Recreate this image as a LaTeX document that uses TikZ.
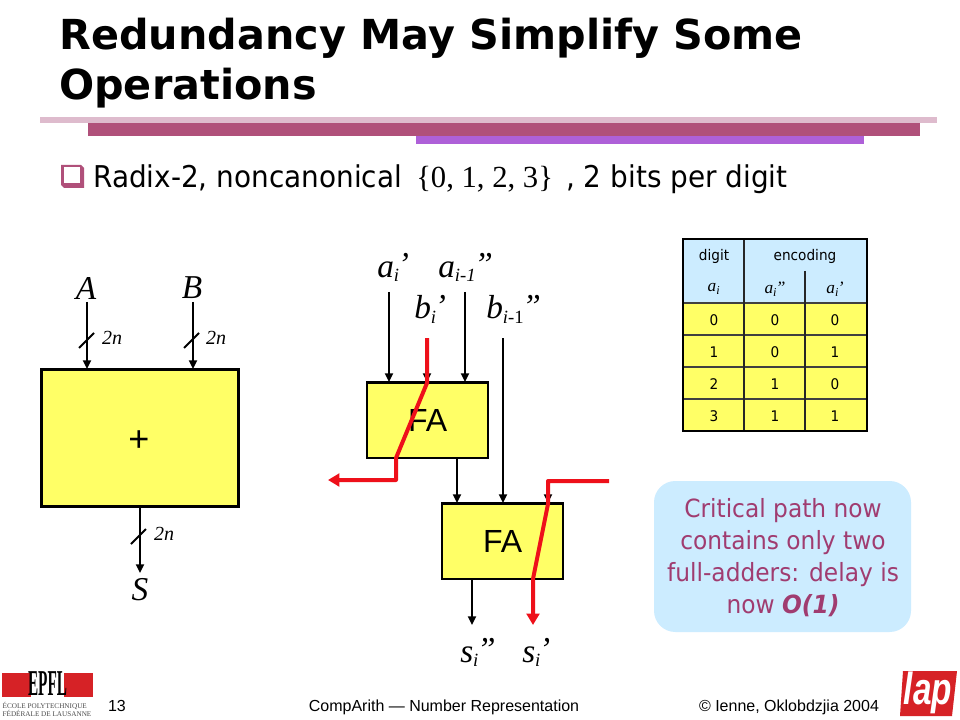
\documentclass[tikz,border=0pt]{standalone}
\usepackage{fontspec}
\setmainfont{Liberation Sans}
\newfontfamily\titlefont{DejaVu Sans}
\newfontfamily\bodyfont[FakeStretch=0.93]{DejaVu Sans}
\newfontfamily\serifface{Liberation Serif}
\usetikzlibrary{arrows.meta}
\definecolor{barpale}{RGB}{222,187,205}
\definecolor{barmid}{RGB}{176,80,122}
\definecolor{barpur}{RGB}{174,96,216}
\definecolor{boxyel}{RGB}{255,255,102}
\definecolor{headblue}{RGB}{204,236,255}
\definecolor{notetxt}{RGB}{160,60,112}
\definecolor{critred}{RGB}{238,16,26}
\definecolor{logored}{RGB}{214,34,38}
\tikzset{
 x=0.75pt,y=-0.75pt,
 wire/.style={line width=1.5pt,-{Triangle[length=6.5pt,width=6pt]}},
 plain/.style={line width=1.5pt},
 crit/.style={line width=3pt,critred,line join=round},
 fabox/.style={draw=black,line width=1.7pt,fill=boxyel,inner sep=0pt,outer sep=0pt,font=\fontsize{24}{24}\selectfont},
 sym/.style={inner sep=0pt,font=\serifface\itshape\fontsize{25}{25}\selectfont},
 bitw/.style={inner sep=0pt,font=\serifface\itshape\fontsize{15}{15}\selectfont},
 cellv/.style={inner sep=0pt,font=\bodyfont\fontsize{11}{11}\selectfont},
 foot/.style={inner sep=0pt,font=\fontsize{12}{12}\selectfont,anchor=base},
}
\newcommand{\symb}[3]{#1\textsubscript{\fontsize{14}{14}\selectfont #2}\kern-1.5pt\raisebox{1pt}{#3}}
\begin{document}
\begin{tikzpicture}
\useasboundingbox (0,0) rectangle (960,720);
\fill[white] (0,0) rectangle (960,720);
% title
\node[anchor=base west,inner sep=0pt,font=\titlefont\bfseries\fontsize{31}{31}\selectfont] (t1) at (59,50) {Redundancy May Simplify Some};
\node[anchor=base west,inner sep=0pt,font=\titlefont\bfseries\fontsize{31}{31}\selectfont] (t2) at (59,100) {Operations};
% bars
\fill[barpale] (40,117) rectangle (937,123);
\fill[barmid] (88,123) rectangle (920,136);
\fill[barpur] (416,136) rectangle (864,144);
% bullet
\fill[barmid] (61,165) -- (81,165) -- (84,168) -- (84,188) -- (64,188) -- (61,185) -- cycle;
\fill[white] (64,167.5) rectangle (80,183);
% body line
\node[anchor=base west,inner sep=0pt,font=\bodyfont\fontsize{22.5}{22.5}\selectfont] (b1) at (93,188) {Radix-2, noncanonical};
\node[anchor=base west,inner sep=0pt,font=\serifface\fontsize{23}{23}\selectfont] (b2) at (416,188) {\{0, 1, 2, 3\}};
\node[anchor=base west,inner sep=0pt,font=\bodyfont\fontsize{22.5}{22.5}\selectfont] (b3) at (566,188) {, 2 bits per digit};
% adder
\node[fabox,anchor=north west,minimum width=147.75pt,minimum height=102.75pt] (add) at (41.5,369.5) {};
\node[inner sep=0pt,font=\fontsize{27}{27}\selectfont] (plus) at (139,441) {+};
\node[sym] (A) at (86,288) {A};
\node[sym] (B) at (192,288) {B};
\node[sym] (S) at (140,590) {S};
\coordinate (ca) at (87,302); \coordinate (cb) at (193,302);
\coordinate (ea) at (87,369); \coordinate (eb) at (193,369);
\coordinate (sa) at (140,506); \coordinate (sb) at (140,573);
\draw[wire] (ca) -- (ea);
\draw[wire] (cb) -- (eb);
\draw[wire] (sa) -- (sb);
\draw[plain] (79,348) -- (94,333);
\draw[plain] (184,348) -- (199,333);
\draw[plain] (131,544) -- (146,529);
\node[bitw] (n1) at (112,338) {2n};
\node[bitw] (n2) at (216,338) {2n};
\node[bitw] (n3) at (164,534) {2n};
% FA
\node[fabox,anchor=north west,minimum width=91pt,minimum height=56.5pt] (fa1) at (367,382.5) {\raisebox{-1pt}{FA}};
\node[fabox,anchor=north west,minimum width=91pt,minimum height=56.5pt] (fa2) at (442,503.5) {\raisebox{-1pt}{FA}};
% labels
\node[sym,anchor=base west] (la) at (377,277) {\symb{a}{i}{’}};
\node[sym,anchor=base west] (lb) at (438,277) {\symb{a}{i-1}{”}};
\node[sym,anchor=base west] (lc) at (414,319) {\symb{b}{i}{’}};
\node[sym,anchor=base west] (ld) at (486,319) {b\textsubscript{\fontsize{14}{14}\selectfont\textit{i}\textup{-1}}\kern-1.5pt\raisebox{1pt}{”}};
\node[sym,anchor=base west] (le) at (460,662) {\symb{s}{i}{”}};
\node[sym,anchor=base west] (lf) at (522,662) {\symb{s}{i}{’}};
% wires
\coordinate (w1) at (389,292); \coordinate (w1e) at (389,382);
\coordinate (w2) at (427,338); \coordinate (w2e) at (427,382);
\coordinate (w3) at (465,292); \coordinate (w3e) at (465,382);
\coordinate (w4) at (457,458); \coordinate (w4e) at (457,503);
\coordinate (w5) at (503,338); \coordinate (w5e) at (503,503);
\coordinate (w6) at (548,482); \coordinate (w6e) at (548,503);
\coordinate (w7) at (472,579); \coordinate (w7e) at (472,625);
\draw[wire] (w1) -- (w1e);
\draw[wire] (w2) -- (w2e);
\draw[wire] (w3) -- (w3e);
\draw[wire] (w4) -- (w4e);
\draw[wire] (w5) -- (w5e);
\draw[wire] (w6) -- (w6e);
\draw[wire] (w7) -- (w7e);
% critical
\coordinate (r1) at (427,338); \coordinate (r2) at (427,383); \coordinate (r3) at (396,458); \coordinate (r4) at (396,480); \coordinate (r5) at (328,480);
\coordinate (q1) at (609,481); \coordinate (q2) at (548,481); \coordinate (q3) at (548,504); \coordinate (q4) at (533,579); \coordinate (q5) at (533,625);
\draw[crit,-{Triangle[length=8.5pt,width=9.5pt]}] (r1) -- (r2) -- (r3) -- (r4) -- (r5);
\draw[crit,-{Triangle[length=8.5pt,width=9.5pt]}] (q1) -- (q2) -- (q3) -- (q4) -- (q5);
% table
\fill[headblue] (683,239) rectangle (867,303);
\fill[boxyel] (683,303) rectangle (867,431);
\draw[line width=0.8pt,black!75] (683,303) -- (867,303) (683,335) -- (867,335) (683,367) -- (867,367) (683,399) -- (867,399);
\draw[line width=0.8pt,black!85] (744,239) -- (744,431);
\draw[line width=0.8pt,black!85] (805,271) -- (805,431);
\draw[line width=1.8pt] (683,239) rectangle (867,431);
\node[cellv] (h1) at (714,256) {digit};
\node[cellv] (h2) at (805,256) {encoding};
\node[inner sep=0pt,font=\serifface\itshape\fontsize{13}{13}\selectfont] (h3) at (714,289) {a\textsubscript{i}};
\node[inner sep=0pt,font=\serifface\itshape\fontsize{13}{13}\selectfont] (h4) at (775,289) {a\textsubscript{i}\kern-1pt”};
\node[inner sep=0pt,font=\serifface\itshape\fontsize{13}{13}\selectfont] (h5) at (835,289) {a\textsubscript{i}\kern-1pt’};
\foreach \yy/\aa/\bb/\cc [count=\k] in {320/0/0/0,352/1/0/1,384/2/1/0,416/3/1/1}{
 \node[cellv] (ca\k) at (714,\yy) {\aa};
 \node[cellv] (cb\k) at (775,\yy) {\bb};
 \node[cellv] (cc\k) at (835,\yy) {\cc};
}
% note
\node[fill=headblue,rounded corners=16pt,minimum width=192.75pt,minimum height=113.25pt,anchor=north west,inner sep=0pt,outer sep=0pt] (note) at (654,481) {};
\node[inner sep=0pt,align=center,text=notetxt,font=\bodyfont\fontsize{18.8}{24}\selectfont] (notet) at (783,558) {Critical path now\\contains only two\\full-adders: delay is\\now {\bfseries\itshape O(1)}};
% footer
\node[foot] (f1) at (117,711) {13};
\node[foot] (f2) at (444,711) {CompArith — Number Representation};
\node[foot] (f3) at (789,711) {© Ienne, Oklobdzjia 2004};
% EPFL logo
\fill[logored] (2,673) rectangle (93,697);
\fill[white] (31,673) rectangle (64,697);
\node[inner sep=0pt,anchor=base,font=\serifface\bfseries\fontsize{13}{13}\selectfont,xscale=0.88,yscale=2.1] (ep) at (47.5,695.5) {EPFL};
\node[inner sep=0pt,align=left,font=\serifface\fontsize{5.4}{6.4}\selectfont,text=black!70] (ec) at (47,709.5) {ÉCOLE POLYTECHNIQUE\\FÉDÉRALE DE LAUSANNE};
% lap logo
\fill[logored] (903,671) -- (957,671) -- (952,716) -- (900,716) -- cycle;
\node[inner sep=0pt,anchor=base,text=white,font=\fontsize{25}{25}\selectfont\bfseries\itshape,yscale=1.35] (lp) at (928,704) {lap};
\end{tikzpicture}
\end{document}
